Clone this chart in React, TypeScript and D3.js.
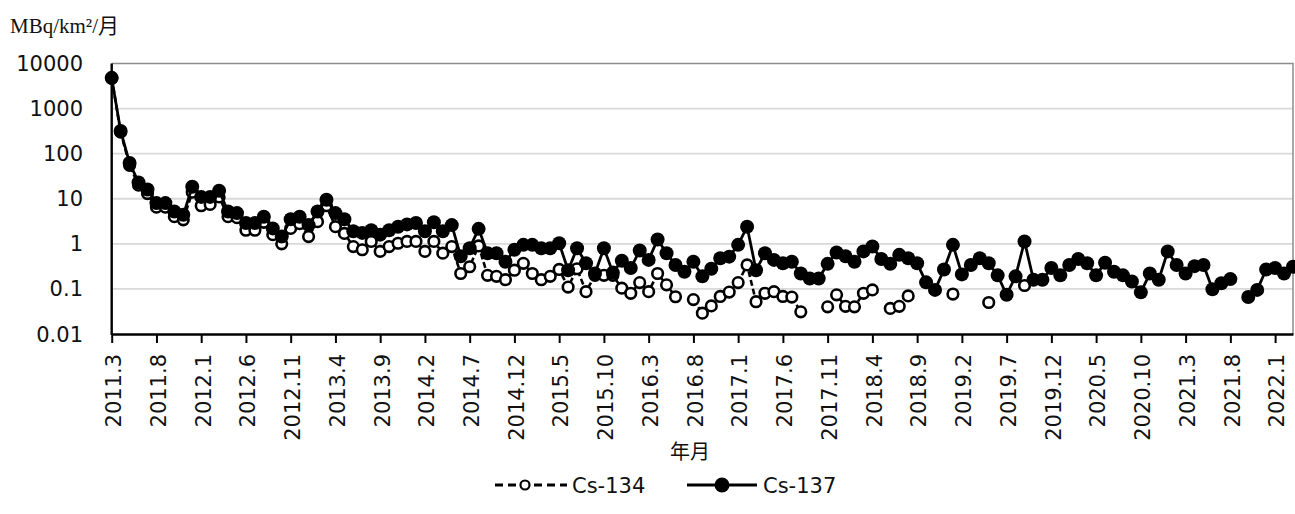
import { useEffect, useRef } from 'react';
import * as d3 from 'd3';

// monthly categories 2011.3 .. 2022.3
const startYear = 2011;
const startMonth = 3;
const monthCount = 133;
const months: string[] = d3.range(monthCount).map(i => {
  const m = startMonth - 1 + i;
  return `${startYear + Math.floor(m / 12)}.${(m % 12) + 1}`;
});

const xTickLabels = [
  '2011.3', '2011.8', '2012.1', '2012.6', '2012.11', '2013.4', '2013.9', '2014.2', '2014.7',
  '2014.12', '2015.5', '2015.10', '2016.3', '2016.8', '2017.1', '2017.6', '2017.11', '2018.4',
  '2018.9', '2019.2', '2019.7', '2019.12', '2020.5', '2020.10', '2021.3', '2021.8', '2022.1'
];

const yTicks = [0.01, 0.1, 1, 10, 100, 1000, 10000];

// MBq/km2 per month
const cs137: (number | null)[] = [
  4800, 320, 62, 23, 16, 8, 8, 5.2, 4.4, 18.5,
  11, 11, 15, 5.2, 4.8, 2.9, 2.9, 4.0, 2.2, 1.45,
  3.5, 4.0, 2.6, 5.2, 9.5, 4.8, 3.5, 1.9, 1.75, 2.0,
  1.6, 2.0, 2.4, 2.7, 2.9, 1.9, 3.0, 1.9, 2.6, 0.53,
  0.8, 2.15, 0.62, 0.62, 0.4, 0.74, 0.95, 0.95, 0.8, 0.8,
  1.03, 0.26, 0.8, 0.37, 0.22, 0.8, 0.23, 0.42, 0.29, 0.71,
  0.44, 1.25, 0.62, 0.34, 0.24, 0.4, 0.19, 0.28, 0.48, 0.52,
  0.95, 2.4, 0.26, 0.62, 0.44, 0.37, 0.4, 0.22, 0.17, 0.17,
  0.36, 0.64, 0.53, 0.4, 0.68, 0.87, 0.46, 0.36, 0.57, 0.48,
  0.37, 0.14, 0.095, 0.27, 0.95, 0.21, 0.34, 0.48, 0.37, 0.2,
  0.074, 0.19, 1.13, 0.16, 0.16, 0.29, 0.2, 0.34, 0.46, 0.37,
  0.2, 0.38, 0.24, 0.2, 0.146, 0.084, 0.22, 0.16, 0.68, 0.34,
  0.22, 0.32, 0.34, 0.098, 0.134, 0.165, null, 0.066, 0.095, 0.27,
  0.29, 0.22, 0.31
];

const cs134: (number | null)[] = [
  4700, 300, 55, 20, 13, 6.5, 6.5, 4.0, 3.4, 14,
  7, 7.5, 11, 4, 3.8, 2.0, 2.0, 3.0, 1.6, 1.0,
  2.2, 2.8, 1.45, 3.1, 7, 2.4, 1.7, 0.87, 0.74, 1.13,
  0.68, 0.87, 1.03, 1.13, 1.13, 0.68, 1.13, 0.62, 0.87, 0.22,
  0.31, 0.9, 0.2, 0.19, 0.16, 0.26, 0.37, 0.22, 0.16, 0.19,
  0.27, 0.11, 0.28, 0.087, 0.2, 0.2, 0.2, 0.104, 0.08, 0.138,
  0.087, 0.22, 0.123, 0.067, null, 0.058, 0.029, 0.042, 0.068, 0.085,
  0.138, 0.34, 0.052, 0.08, 0.087, 0.068, 0.066, 0.031, null, null,
  0.04, 0.074, 0.041, 0.04, 0.08, 0.095, null, 0.037, 0.041, 0.07,
  null, null, null, null, 0.077, null, null, null, 0.05, null,
  null, null, 0.119, null, null, null, null, null, null, null,
  null, null, null, null, null, null, null, null, null, null,
  null, null, null, null, null, null, null, null, null, null,
  null, null, null
];

const FONT = '"DejaVu Sans", sans-serif';
const INK = '#111';

export default function App() {
  const ref = useRef<SVGSVGElement>(null);

  useEffect(() => {
    const svg = d3.select(ref.current);
    svg.selectAll('*').remove();

    const left = 111.7, right = 1293, top = 63.5, bottom = 334;

    const x = d3.scalePoint<string>().domain(months).range([left, right]);
    const y = d3.scaleLog().domain([0.01, 10000]).range([bottom, top]);

    // gridlines
    svg.append('g')
      .selectAll('line')
      .data(yTicks.slice(1, -1))
      .enter().append('line')
      .attr('x1', left).attr('x2', right)
      .attr('y1', d => y(d)).attr('y2', d => y(d))
      .attr('stroke', '#d9d9d9')
      .attr('stroke-width', 1.8);

    // plot frame top / right
    svg.append('path')
      .attr('d', `M${left},${top}H${right}V${bottom}`)
      .attr('fill', 'none')
      .attr('stroke', '#8c8c8c')
      .attr('stroke-width', 1.5);

    // y labels
    svg.append('g')
      .selectAll('text')
      .data(yTicks)
      .enter().append('text')
      .attr('x', 83)
      .attr('y', d => y(d))
      .attr('dy', '0.36em')
      .attr('text-anchor', 'end')
      .attr('font-family', FONT)
      .attr('font-size', 21)
      .attr('fill', INK)
      .text(d => String(d));

    // x axis
    const xAxis = svg.append('g')
      .attr('transform', `translate(0,${bottom})`)
      .call(d3.axisBottom(x).tickValues(xTickLabels).tickSize(9).tickSizeOuter(0));
    xAxis.select('.domain').attr('stroke', '#000').attr('stroke-width', 2.4);
    xAxis.selectAll('.tick line').attr('stroke', '#000').attr('stroke-width', 2);
    xAxis.selectAll('.tick text')
      .attr('font-family', FONT)
      .attr('font-size', 21)
      .attr('fill', INK)
      .attr('text-anchor', 'end')
      .attr('transform', 'translate(0,20) rotate(-90)')
      .attr('x', 0)
      .attr('y', 0)
      .attr('dy', '0.42em');

    // y axis line
    svg.append('line')
      .attr('x1', left).attr('x2', left)
      .attr('y1', top).attr('y2', bottom + 1)
      .attr('stroke', '#000')
      .attr('stroke-width', 2.4);

    const line = d3.line<number | null>()
      .defined(d => d != null)
      .x((d, i) => x(months[i]) as number)
      .y(d => y(d as number));

    // Cs-134
    svg.append('path')
      .datum(cs134)
      .attr('fill', 'none')
      .attr('stroke', '#000')
      .attr('stroke-width', 2.6)
      .attr('stroke-dasharray', '6,3')
      .attr('d', line);

    svg.append('g')
      .selectAll('circle')
      .data(cs134.map((v, i) => ({ v, i })).filter(d => d.v != null))
      .enter().append('circle')
      .attr('cx', d => x(months[d.i]) as number)
      .attr('cy', d => y(d.v as number))
      .attr('r', 5.3)
      .attr('fill', '#fff')
      .attr('stroke', '#000')
      .attr('stroke-width', 2.6);

    // Cs-137
    svg.append('path')
      .datum(cs137)
      .attr('fill', 'none')
      .attr('stroke', '#000')
      .attr('stroke-width', 2.8)
      .attr('d', line);

    svg.append('g')
      .selectAll('circle')
      .data(cs137.map((v, i) => ({ v, i })).filter(d => d.v != null))
      .enter().append('circle')
      .attr('cx', d => x(months[d.i]) as number)
      .attr('cy', d => y(d.v as number))
      .attr('r', 7)
      .attr('fill', '#000');

    // unit label
    svg.append('text')
      .attr('x', 10)
      .attr('y', 33)
      .attr('font-family', '"Liberation Serif", "Noto Sans CJK JP", serif')
      .attr('font-size', 21)
      .attr('fill', INK)
      .text('MBq/km²/月');

    // x title
    svg.append('text')
      .attr('x', 690)
      .attr('y', 459)
      .attr('text-anchor', 'middle')
      .attr('font-family', '"Noto Sans CJK JP", sans-serif')
      .attr('font-size', 20)
      .attr('fill', INK)
      .text('年月');

    // legend
    const ly = 485;
    const lg = svg.append('g');
    lg.append('line')
      .attr('x1', 495).attr('x2', 567).attr('y1', ly).attr('y2', ly)
      .attr('stroke', '#000').attr('stroke-width', 3).attr('stroke-dasharray', '8,5');
    lg.append('circle')
      .attr('cx', 525).attr('cy', ly).attr('r', 4.5)
      .attr('fill', '#fff').attr('stroke', '#000').attr('stroke-width', 2.2);
    lg.append('text')
      .attr('x', 572).attr('y', ly + 8)
      .attr('font-family', FONT).attr('font-size', 21).attr('fill', INK)
      .text('Cs-134');
    lg.append('line')
      .attr('x1', 687).attr('x2', 757).attr('y1', ly).attr('y2', ly)
      .attr('stroke', '#000').attr('stroke-width', 3);
    lg.append('circle')
      .attr('cx', 722).attr('cy', ly).attr('r', 7.5)
      .attr('fill', '#000');
    lg.append('text')
      .attr('x', 763).attr('y', ly + 8)
      .attr('font-family', FONT).attr('font-size', 21).attr('fill', INK)
      .text('Cs-137');
  }, []);

  return (
    <svg
      ref={ref}
      width={1295}
      height={514}
      style={{ position: 'absolute', left: 0, top: 0, background: '#fff' }}
    />
  );
}
